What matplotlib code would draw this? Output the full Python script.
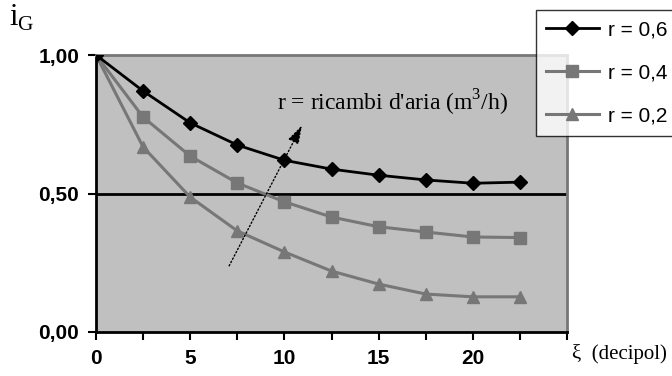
import matplotlib
matplotlib.use("Agg")
import matplotlib.pyplot as plt

# dati
xi = [0, 2.5, 5, 7.5, 10, 12.5, 15, 17.5, 20, 22.5]
r06 = [1.00, 0.87, 0.755, 0.675, 0.62, 0.588, 0.566, 0.549, 0.537, 0.541]
r04 = [1.00, 0.776, 0.635, 0.538, 0.47, 0.415, 0.38, 0.361, 0.343, 0.341]
r02 = [1.00, 0.668, 0.487, 0.365, 0.289, 0.22, 0.173, 0.137, 0.127, 0.127]
labels = ['r = 0,6', 'r = 0,4', 'r = 0,2']
y_ticks = [0, 0.5, 1.0]
y_ticklabels = ['0,00', '0,50', '1,00']
x_ticks = [0, 5, 10, 15, 20]

sans = 'Liberation Sans'
serif = 'Liberation Serif'
plt.rcParams['mathtext.fontset'] = 'custom'
plt.rcParams['mathtext.rm'] = serif

fig = plt.figure(figsize=(6.72, 3.76), dpi=100)
ax = fig.add_axes([96 / 672, 1 - 332 / 376, 471 / 672, 277 / 376])
ax.set_facecolor('#C0C0C0')

grey = '#777777'
ax.plot(xi, r06, color='black', lw=2, marker='D', ms=7, label=labels[0], zorder=4)
ax.plot(xi, r04, color=grey, lw=2.2, marker='s', ms=8, label=labels[1], zorder=3)
ax.plot(xi, r02, color=grey, lw=2.2, marker='^', ms=8, label=labels[2], zorder=3)

ax.axhline(0.5, color='black', lw=2, zorder=2)

ax.set_xlim(0, 25)
ax.set_ylim(0, 1)
all_x = [i * 2.5 for i in range(11)]
ax.set_xticks(all_x)
ax.set_xticklabels([str(int(t)) if t in x_ticks else '' for t in all_x])
ax.set_yticks(y_ticks)
ax.set_yticklabels(y_ticklabels)
ax.tick_params(axis='both', direction='out', length=6, width=1.5, labelsize=15, pad=6)
for lab in ax.get_xticklabels() + ax.get_yticklabels():
    lab.set_fontfamily(sans)
    lab.set_fontweight('bold')

for s in ['left', 'bottom']:
    ax.spines[s].set_color('black')
    ax.spines[s].set_linewidth(2)
for s in ['top', 'right']:
    ax.spines[s].set_color(grey)
    ax.spines[s].set_linewidth(2)

leg = ax.legend(loc='upper left', bbox_to_anchor=(536 / 672, 1 - 10 / 376),
                bbox_transform=fig.transFigure, frameon=True, fancybox=False,
                edgecolor='black', prop={'family': sans, 'size': 15},
                handlelength=2.5, handletextpad=0.45, labelspacing=1.15,
                borderpad=0.5, borderaxespad=0)
leg.get_frame().set_linewidth(1)
leg.set_zorder(10)

ax.annotate('', xy=(11.0, 0.755), xytext=(7.0, 0.23),
            arrowprops=dict(arrowstyle='-|>,head_length=0.8,head_width=0.25',
                            linestyle=':', lw=1, color='black', mutation_scale=14),
            zorder=5)
ax.text(277 / 672, 1 - 103 / 376, "r = ricambi d'aria (m$^3$/h)", transform=fig.transFigure,
        fontfamily=serif, fontsize=17, va='center', ha='left')

fig.text(9 / 672, 1 - 18 / 376, 'i$_\\mathrm{G}$', fontfamily=serif, fontsize=22,
         va='center', ha='left')
fig.text(572 / 672, 1 - 354 / 376, 'ξ  (decipol)', fontfamily=serif, fontsize=15,
         va='center', ha='left')

fig.savefig('out.png', dpi=100)
